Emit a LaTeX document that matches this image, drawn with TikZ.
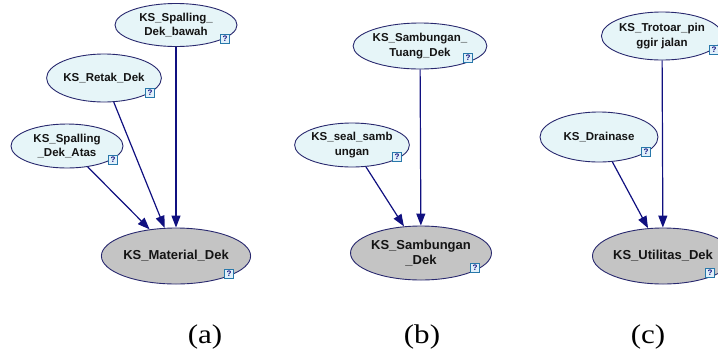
\documentclass[tikz,border=0pt]{standalone}
\usepackage{fontspec}
\setmainfont{Liberation Serif}
\newfontfamily\netfont{Liberation Sans}
\usetikzlibrary{shapes.geometric,arrows.meta}

\definecolor{edgeblue}{RGB}{16,16,128}
\definecolor{rimblue}{RGB}{40,40,110}
\definecolor{parentfill}{RGB}{230,245,248}
\definecolor{childfill}{RGB}{196,196,196}
\definecolor{qframe}{RGB}{40,120,170}
\definecolor{qfill}{RGB}{225,240,250}
\definecolor{nodetext}{RGB}{20,20,20}

\tikzset{
  parentnode/.style={ellipse, draw=rimblue, line width=0.9pt, fill=parentfill,
    inner sep=0pt, align=center, text=nodetext,
    font=\netfont\bfseries\fontsize{11.5}{14.5}\selectfont},
  childnode/.style={ellipse, draw=rimblue, line width=0.9pt, fill=childfill,
    inner sep=0pt, align=center, text=nodetext,
    font=\netfont\bfseries\fontsize{13}{15}\selectfont},
  qbox/.style={draw=qframe, line width=0.8pt, fill=qfill, minimum size=9pt,
    inner sep=0pt, text=edgeblue,
    font=\netfont\bfseries\fontsize{8}{8}\selectfont},
  link/.style={draw=edgeblue, line width=1.2pt,
    -{Triangle[length=12pt,width=9pt]}},
  caption/.style={font=\fontsize{27}{27}\selectfont, inner sep=0pt, xscale=1.15}
}

\begin{document}
\begin{tikzpicture}[x=1pt,y=-1pt]
\useasboundingbox (0,0) rectangle (718,360);

% ---- (a) deck material ----
\node[parentnode, minimum width=122pt, minimum height=43pt] (bawah) at (176,25) {KS\_Spalling\_\\Dek\_bawah};
\node[parentnode, minimum width=108pt, minimum height=48pt] (retak) at (104,78) {KS\_Retak\_Dek};
\node[parentnode, minimum width=112pt, minimum height=44pt] (atas) at (67,146) {KS\_Spalling\\\_Dek\_Atas};
\node[childnode, minimum width=126pt, minimum height=56pt] (material) at (176,256) {KS\_Material\_Dek};

\draw[link] (bawah) -- (material);
\draw[link] (retak) -- (material);
\draw[link] (atas) -- (material);

\node[qbox] (qbawah) at (225,39) {?};
\node[qbox] (qretak) at (150,93) {?};
\node[qbox] (qatas) at (113,160) {?};
\node[qbox] (qmaterial) at (229,274) {?};

% ---- (b) deck joints ----
\node[parentnode, minimum width=122pt, minimum height=46pt] (tuang) at (420,46) {KS\_Sambungan\_\\Tuang\_Dek};
\node[parentnode, minimum width=112pt, minimum height=44pt] (seal) at (352,145) {KS\_seal\_samb\\ungan};
\node[childnode, minimum width=134pt, minimum height=54pt] (sambungan) at (421,253) {KS\_Sambungan\\\_Dek};

\draw[link] (tuang) -- (sambungan);
\draw[link] (seal) -- (sambungan);

\node[qbox] (qtuang) at (468,58) {?};
\node[qbox] (qseal) at (397,157) {?};
\node[qbox] (qsambungan) at (475,268) {?};

% ---- (c) deck utilities ----
\node[parentnode, minimum width=120pt, minimum height=48pt] (trotoar) at (662,36) {KS\_Trotoar\_pin\\ggir jalan};
\node[parentnode, minimum width=118pt, minimum height=50pt] (drainase) at (599,137) {KS\_Drainase};
\node[childnode, minimum width=116pt, minimum height=56pt] (utilitas) at (663,256) {KS\_Utilitas\_Dek};

\draw[link] (trotoar) -- (utilitas);
\draw[link] (drainase) -- (utilitas);

\node[qbox] (qtrotoar) at (714,50) {?};
\node[qbox] (qdrainase) at (646,152) {?};
\node[qbox] (qutilitas) at (710,273) {?};

% ---- panel captions ----
\node[caption] (capa) at (205,337) {(a)};
\node[caption] (capb) at (422,337) {(b)};
\node[caption] (capc) at (648,337) {(c)};
\end{tikzpicture}
\end{document}
